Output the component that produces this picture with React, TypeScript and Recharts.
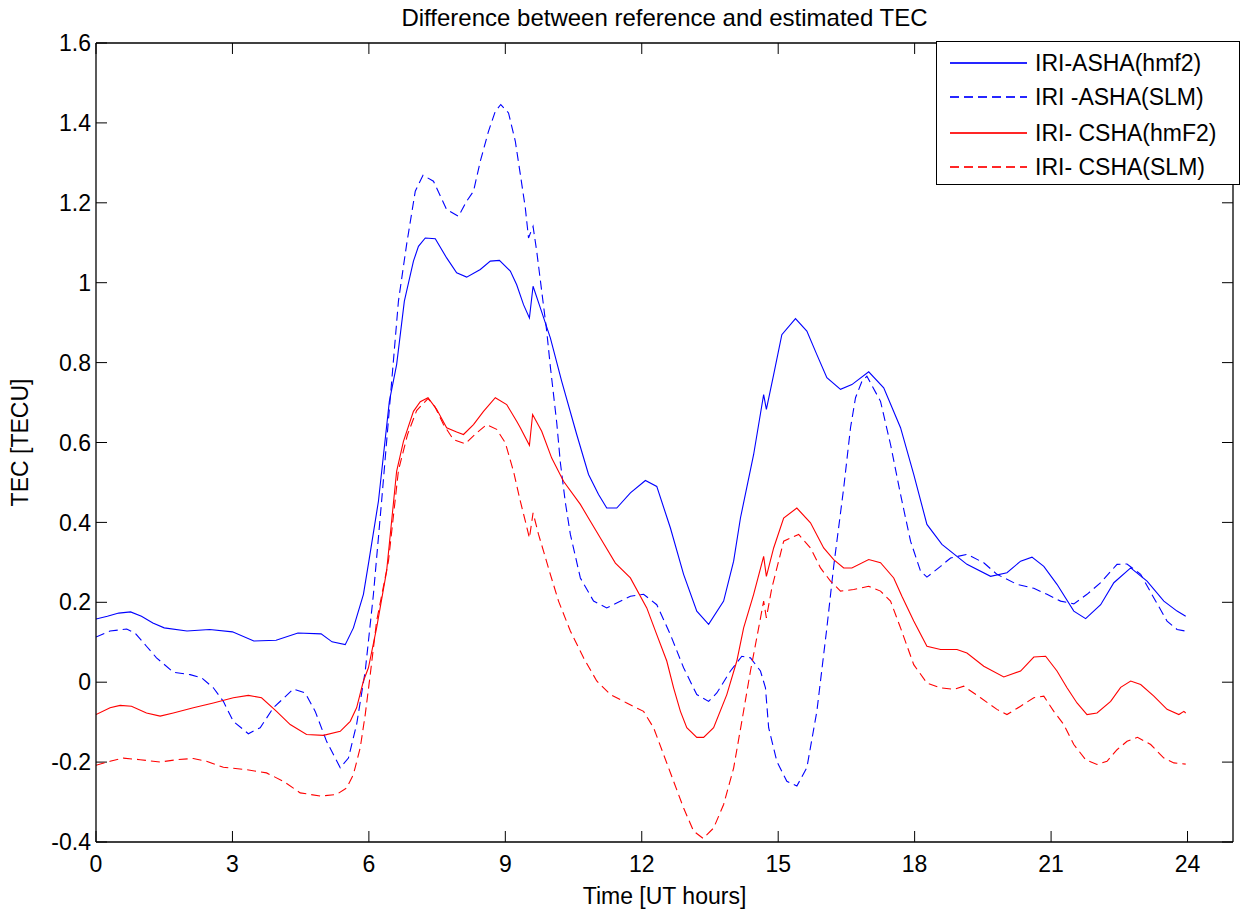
import React from 'react';
import { LineChart, Line, XAxis, YAxis, Label, ReferenceLine } from 'recharts';

const FONT = '"Liberation Sans", Arial, Helvetica, sans-serif';

const xTicks = [0, 3, 6, 9, 12, 15, 18, 21, 24];
const yTicks = [-0.4, -0.2, 0, 0.2, 0.4, 0.6, 0.8, 1, 1.2, 1.4, 1.6];
const xDomain: [number, number] = [0, 25];
const yDomain: [number, number] = [-0.4, 1.6];

const titleText = 'Difference between reference and estimated TEC';
const xLabelText = 'Time [UT hours]';
const yLabelText = 'TEC [TECU]';

// [UT hour, TEC difference]
const ashaHmf2: [number, number][] = [
  [0, 0.158], [0.25, 0.165], [0.5, 0.173], [0.76, 0.176], [1.0, 0.165], [1.25, 0.148], [1.5, 0.136],
  [2.0, 0.128], [2.5, 0.132], [3.0, 0.126], [3.47, 0.103], [3.96, 0.105], [4.44, 0.123], [4.95, 0.121],
  [5.19, 0.101], [5.48, 0.094], [5.66, 0.136], [5.88, 0.22], [6.0, 0.303], [6.21, 0.453], [6.45, 0.703],
  [6.61, 0.795], [6.78, 0.954], [6.98, 1.054], [7.09, 1.091], [7.24, 1.112], [7.46, 1.11], [7.71, 1.062],
  [7.93, 1.025], [8.15, 1.014], [8.45, 1.033], [8.67, 1.054], [8.87, 1.056], [9.11, 1.029], [9.25, 0.995],
  [9.4, 0.945], [9.53, 0.912], [9.61, 0.991], [9.77, 0.937], [9.99, 0.862], [10.24, 0.753], [10.57, 0.62],
  [10.83, 0.52], [11.05, 0.47], [11.23, 0.436], [11.45, 0.436], [11.75, 0.474], [12.08, 0.505], [12.33, 0.49],
  [12.63, 0.386], [12.92, 0.27], [13.21, 0.178], [13.47, 0.145], [13.8, 0.203], [14.02, 0.303], [14.17, 0.411],
  [14.46, 0.57], [14.68, 0.72], [14.74, 0.683], [14.9, 0.77], [15.08, 0.87], [15.38, 0.91], [15.63, 0.879],
  [15.85, 0.82], [16.07, 0.762], [16.37, 0.733], [16.62, 0.745], [16.99, 0.777], [17.32, 0.737], [17.69, 0.637],
  [17.98, 0.52], [18.27, 0.395], [18.6, 0.345], [19.15, 0.295], [19.67, 0.265], [20.03, 0.274], [20.33, 0.303],
  [20.58, 0.313], [20.84, 0.29], [21.13, 0.245], [21.5, 0.178], [21.76, 0.159], [22.09, 0.194], [22.38, 0.249],
  [22.75, 0.286], [23.11, 0.253], [23.48, 0.203], [23.77, 0.178], [23.96, 0.165],
];

const ashaSlm: [number, number][] = [
  [0, 0.113], [0.31, 0.128], [0.675, 0.133], [0.86, 0.123], [1.11, 0.09], [1.33, 0.061], [1.7, 0.025],
  [2.07, 0.019], [2.32, 0.011], [2.58, -0.014], [2.8, -0.048], [3.02, -0.098], [3.35, -0.129], [3.61, -0.114],
  [3.9, -0.064], [4.34, -0.017], [4.6, -0.027], [4.82, -0.073], [5.07, -0.148], [5.37, -0.214], [5.55, -0.19],
  [5.73, -0.106], [5.92, 0.028], [6.1, 0.22], [6.28, 0.453], [6.65, 0.954], [6.83, 1.096], [7.02, 1.229],
  [7.19, 1.269], [7.42, 1.254], [7.71, 1.183], [7.97, 1.166], [8.15, 1.204], [8.3, 1.229], [8.45, 1.304],
  [8.63, 1.379], [8.78, 1.429], [8.9, 1.446], [9.07, 1.425], [9.22, 1.354], [9.33, 1.271], [9.44, 1.187],
  [9.51, 1.112], [9.61, 1.141], [9.69, 1.079], [9.91, 0.879], [9.99, 0.79], [10.13, 0.65], [10.21, 0.55],
  [10.32, 0.45], [10.43, 0.37], [10.65, 0.261], [10.94, 0.203], [11.23, 0.186], [11.75, 0.215], [12.04, 0.22],
  [12.33, 0.194], [12.63, 0.119], [12.92, 0.036], [13.21, -0.031], [13.47, -0.048], [13.65, -0.027],
  [13.95, 0.028], [14.2, 0.065], [14.39, 0.061], [14.61, 0.028], [14.72, -0.014], [14.79, -0.114],
  [14.97, -0.198], [15.19, -0.248], [15.41, -0.26], [15.63, -0.214], [15.85, -0.073], [16.07, 0.136],
  [16.22, 0.29], [16.44, 0.486], [16.59, 0.637], [16.7, 0.712], [16.84, 0.753], [16.95, 0.766], [17.25, 0.703],
  [17.47, 0.595], [17.69, 0.47], [17.91, 0.353], [18.13, 0.278], [18.27, 0.263], [18.57, 0.29], [18.79, 0.311],
  [19.15, 0.32], [19.52, 0.299], [19.81, 0.27], [20.25, 0.245], [20.62, 0.235], [20.91, 0.22], [21.21, 0.203],
  [21.5, 0.196], [21.79, 0.22], [22.09, 0.249], [22.45, 0.295], [22.67, 0.296], [22.97, 0.27], [23.26, 0.211],
  [23.55, 0.153], [23.77, 0.132], [23.96, 0.128],
];

const cshaHmf2: [number, number][] = [
  [0, -0.081], [0.31, -0.064], [0.53, -0.058], [0.78, -0.06], [1.11, -0.077], [1.41, -0.085], [1.7, -0.077],
  [2.14, -0.064], [2.58, -0.052], [3.02, -0.039], [3.35, -0.033], [3.64, -0.039], [3.97, -0.073], [4.27, -0.106],
  [4.63, -0.131], [5.0, -0.133], [5.37, -0.123], [5.59, -0.098], [5.73, -0.064], [5.88, 0.003], [5.99, 0.036],
  [6.17, 0.136], [6.39, 0.278], [6.61, 0.528], [6.76, 0.603], [6.98, 0.678], [7.13, 0.702], [7.3, 0.712],
  [7.49, 0.683], [7.71, 0.637], [7.93, 0.626], [8.08, 0.62], [8.3, 0.645], [8.52, 0.678], [8.78, 0.712],
  [9.03, 0.695], [9.25, 0.653], [9.33, 0.637], [9.53, 0.593], [9.6, 0.67], [9.8, 0.628], [10.02, 0.561],
  [10.28, 0.503], [10.65, 0.445], [10.87, 0.403], [11.09, 0.361], [11.42, 0.298], [11.75, 0.261], [12.11, 0.186],
  [12.33, 0.119], [12.55, 0.053], [12.7, -0.014], [12.85, -0.073], [12.99, -0.114], [13.21, -0.138],
  [13.36, -0.138], [13.58, -0.114], [13.87, -0.031], [14.09, 0.053], [14.24, 0.136], [14.46, 0.22],
  [14.68, 0.315], [14.74, 0.265], [14.9, 0.336], [15.12, 0.411], [15.41, 0.436], [15.71, 0.399], [16.0, 0.336],
  [16.22, 0.307], [16.44, 0.286], [16.62, 0.286], [16.99, 0.307], [17.25, 0.299], [17.54, 0.261], [17.72, 0.215],
  [17.98, 0.153], [18.27, 0.09], [18.57, 0.082], [18.93, 0.082], [19.15, 0.073], [19.52, 0.04], [19.96, 0.013],
  [20.33, 0.028], [20.62, 0.063], [20.88, 0.065], [21.13, 0.028], [21.35, -0.014], [21.57, -0.052],
  [21.79, -0.081], [22.01, -0.077], [22.31, -0.048], [22.53, -0.013], [22.75, 0.003], [22.97, -0.006],
  [23.26, -0.035], [23.55, -0.068], [23.81, -0.081], [23.92, -0.073], [23.96, -0.077],
];

const cshaSlm: [number, number][] = [
  [0, -0.208], [0.31, -0.198], [0.6, -0.19], [0.97, -0.194], [1.41, -0.2], [1.77, -0.194], [2.14, -0.191],
  [2.43, -0.198], [2.8, -0.213], [3.31, -0.219], [3.75, -0.227], [4.12, -0.248], [4.49, -0.277], [4.93, -0.285],
  [5.29, -0.281], [5.51, -0.265], [5.66, -0.231], [5.81, -0.164], [5.92, -0.081], [6.03, 0.019], [6.17, 0.153],
  [6.43, 0.303], [6.65, 0.53], [6.85, 0.62], [7.05, 0.68], [7.3, 0.71], [7.45, 0.69], [7.64, 0.645],
  [7.86, 0.607], [8.12, 0.597], [8.37, 0.624], [8.59, 0.645], [8.81, 0.633], [9.0, 0.599], [9.18, 0.528],
  [9.33, 0.453], [9.44, 0.403], [9.53, 0.361], [9.61, 0.424], [9.73, 0.37], [9.84, 0.328], [9.99, 0.27],
  [10.17, 0.203], [10.43, 0.128], [10.72, 0.061], [11.01, 0.003], [11.31, -0.031], [11.67, -0.052],
  [12.04, -0.073], [12.26, -0.114], [12.48, -0.181], [12.7, -0.248], [12.92, -0.315], [13.14, -0.373],
  [13.35, -0.391], [13.58, -0.365], [13.8, -0.306], [14.02, -0.215], [14.2, -0.098], [14.39, 0.028],
  [14.57, 0.136], [14.68, 0.203], [14.74, 0.161], [14.86, 0.236], [15.01, 0.303], [15.12, 0.353], [15.45, 0.37],
  [15.71, 0.336], [15.93, 0.286], [16.15, 0.253], [16.37, 0.228], [16.66, 0.232], [16.99, 0.24], [17.25, 0.228],
  [17.47, 0.203], [17.69, 0.136], [17.98, 0.044], [18.27, -0.002], [18.57, -0.014], [18.86, -0.018],
  [19.08, -0.01], [19.45, -0.039], [19.81, -0.068], [20.03, -0.081], [20.33, -0.06], [20.62, -0.039],
  [20.84, -0.035], [21.06, -0.073], [21.28, -0.106], [21.5, -0.156], [21.76, -0.194], [22.01, -0.206],
  [22.23, -0.198], [22.45, -0.169], [22.67, -0.148], [22.9, -0.138], [23.19, -0.156], [23.48, -0.19],
  [23.7, -0.202], [23.96, -0.205],
];

const seriesNames = ['IRI-ASHA(hmf2)', 'IRI -ASHA(SLM)', 'IRI- CSHA(hmF2)', 'IRI- CSHA(SLM)'];
const seriesColors = ['#0000ff', '#0000ff', '#ff0000', '#ff0000'];
const seriesDashed = [false, true, false, true];
const seriesData = [ashaHmf2, ashaSlm, cshaHmf2, cshaSlm];

const toRows = (arr: [number, number][]) => arr.map(([t, v]) => ({ t, v }));
const fmt = (v: number) => String(Math.round(v * 10) / 10);

// inward tick length expressed in data units (about 11 px)
const TICK_LEN_X = 0.242;
const TICK_LEN_Y = 0.0275;

// legend row offsets inside the legend box (px)
const legendRowTops = [20, 54, 90, 124];

function LegendBox() {
  return (
    <div style={{ position: 'absolute', left: 936, top: 41, width: 304, height: 144, boxSizing: 'border-box',
      border: '1px solid #000', background: '#fff', zIndex: 3, fontFamily: FONT }}>
      {seriesNames.map((name, i) => {
        const cy = legendRowTops[i];
        const c = seriesColors[i];
        const bg = seriesDashed[i]
          ? `repeating-linear-gradient(to right, ${c} 0px, ${c} 9px, transparent 9px, transparent 14px)`
          : c;
        return (
          <React.Fragment key={name}>
            <div style={{ position: 'absolute', left: 13, top: cy, width: 77, height: 2, background: bg, opacity: 0.85 }} />
            <div style={{ position: 'absolute', left: 98, top: cy - 13, height: 28, lineHeight: '28px',
              fontSize: 23, color: '#000', whiteSpace: 'pre' }}>{name}</div>
          </React.Fragment>
        );
      })}
    </div>
  );
}

function YLabel(props: any) {
  const vb = props.viewBox || { x: 0, y: 0, width: 0, height: 0 };
  const cy = vb.y + vb.height / 2;
  const cx = 20;
  return (
    <text x={cx} y={cy} transform={`rotate(-90, ${cx}, ${cy})`} textAnchor="middle" dominantBaseline="central"
      fontFamily={FONT} fontSize={23} fill="#000">{yLabelText}</text>
  );
}

export default function App() {
  const W = 1243;
  const H = 913;
  const tickStyle = { fill: '#000', fontSize: 23, fontFamily: FONT };
  const axisStyle = { stroke: '#000', strokeWidth: 1.3 };
  return (
    <div style={{ position: 'absolute', left: 0, top: 0, width: W, height: H, background: '#fff' }}>
      <div style={{ position: 'absolute', left: 96, top: 6, width: 1137, textAlign: 'center', fontFamily: FONT,
        fontSize: 24, lineHeight: '24px', color: '#000', zIndex: 2 }}>{titleText}</div>
      <LineChart width={W} height={H} margin={{ top: 43, right: 10, bottom: 0, left: 0 }} style={{ fontFamily: FONT }}>
        <XAxis dataKey="t" type="number" domain={xDomain} ticks={xTicks} interval={0} allowDataOverflow
          height={71} tickSize={0} tickMargin={14} tick={tickStyle} tickFormatter={fmt}
          axisLine={axisStyle} tickLine={false}>
          <Label value={xLabelText} position="insideBottom" offset={9}
            style={{ fontFamily: FONT, fontSize: 23, fill: '#000' }} />
        </XAxis>
        <YAxis type="number" domain={yDomain} ticks={yTicks} interval={0} allowDataOverflow width={96}
          tickSize={0} tickMargin={5} tick={tickStyle} tickFormatter={fmt}
          axisLine={axisStyle} tickLine={false}>
          <Label content={<YLabel />} />
        </YAxis>

        <ReferenceLine y={yDomain[1]} stroke="#000" strokeWidth={1.3} ifOverflow="visible" />
        <ReferenceLine x={xDomain[1]} stroke="#000" strokeWidth={1.3} ifOverflow="visible" />

        {xTicks.map((t) => (
          <ReferenceLine key={`xb${t}`} stroke="#000" strokeWidth={1} ifOverflow="visible"
            segment={[{ x: t, y: yDomain[0] }, { x: t, y: yDomain[0] + TICK_LEN_Y }]} />
        ))}
        {xTicks.map((t) => (
          <ReferenceLine key={`xt${t}`} stroke="#000" strokeWidth={1} ifOverflow="visible"
            segment={[{ x: t, y: yDomain[1] }, { x: t, y: yDomain[1] - TICK_LEN_Y }]} />
        ))}
        {yTicks.map((v) => (
          <ReferenceLine key={`yl${v}`} stroke="#000" strokeWidth={1} ifOverflow="visible"
            segment={[{ x: xDomain[0], y: v }, { x: xDomain[0] + TICK_LEN_X, y: v }]} />
        ))}
        {yTicks.map((v) => (
          <ReferenceLine key={`yr${v}`} stroke="#000" strokeWidth={1} ifOverflow="visible"
            segment={[{ x: xDomain[1], y: v }, { x: xDomain[1] - TICK_LEN_X, y: v }]} />
        ))}

        {seriesData.map((d, i) => (
          <Line key={seriesNames[i]} data={toRows(d)} dataKey="v" name={seriesNames[i]} type="linear"
            stroke={seriesColors[i]} strokeWidth={1.1} strokeDasharray={seriesDashed[i] ? '9 5' : undefined}
            dot={false} activeDot={false} isAnimationActive={false} />
        ))}
      </LineChart>
      <LegendBox />
    </div>
  );
}
